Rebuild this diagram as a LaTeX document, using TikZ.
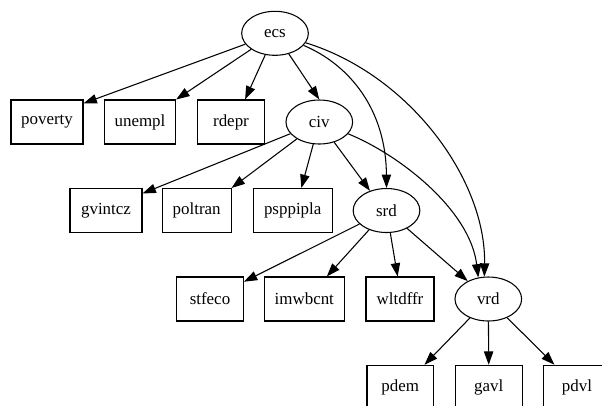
\documentclass[tikz,border=0pt]{standalone}
\usepackage{fontspec}
\setmainfont{Liberation Serif}
\usetikzlibrary{arrows.meta,shapes.geometric}
\begin{document}
\begin{tikzpicture}[x=0.75pt,y=-0.75pt,
  every node/.style={font=\fontsize{12.7}{15}\selectfont, inner sep=0pt},
  lat/.style={ellipse, draw, line width=0.8pt, minimum width=50pt, minimum height=33pt},
  obs/.style={rectangle, draw, line width=0.8pt, minimum height=33pt},
  edge/.style={line width=0.8pt, -{Triangle[length=10pt,width=7pt]}}]
\useasboundingbox (0,0) rectangle (602,405);
\clip (0,0) rectangle (602,405);
% latent nodes
\node[lat] (ecs) at (275,33.3) {ecs};
\node[lat] (civ) at (319.3,122) {civ};
\node[lat] (srd) at (386.5,210.5) {srd};
\node[lat] (vrd) at (488.3,299) {vrd};
% observed nodes
\node[obs, minimum width=54pt] (poverty) at (47,122) {poverty};
\node[obs, minimum width=53.5pt] (unempl) at (140,122) {unempl};
\node[obs, minimum width=50pt] (rdepr) at (231,122) {rdepr};
\node[obs, minimum width=54pt] (gvintcz) at (106,210.5) {gvintcz};
\node[obs, minimum width=51.5pt] (poltran) at (196.7,210.5) {poltran};
\node[obs, minimum width=59pt] (psppipla) at (292.7,210.5) {psppipla};
\node[obs, minimum width=50pt] (stfeco) at (210,299) {stfeco};
\node[obs, minimum width=60pt] (imwbcnt) at (304.3,299) {imwbcnt};
\node[obs, minimum width=51pt] (wltdffr) at (400,299) {wltdffr};
\node[obs, minimum width=50pt] (pdem) at (400.3,387.3) {pdem};
\node[obs, minimum width=50pt] (gavl) at (488.7,387.3) {gavl};
\node[obs, minimum width=50pt] (pdvl) at (577,387.3) {pdvl};
% edges from ecs
\draw[edge] (ecs) -- (poverty.27);
\draw[edge] (ecs) -- (unempl.north east);
\draw[edge] (ecs) -- (rdepr.58);
\draw[edge] (ecs) -- (civ.north);
\draw[edge] (ecs) .. controls (350,65) and (386,110) .. (srd.north);
\draw[edge] (ecs) .. controls (410,75) and (486,180) .. (vrd.100);
% edges from civ
\draw[edge] (civ) -- (gvintcz.25);
\draw[edge] (civ) -- (poltran.north east);
\draw[edge] (civ) -- (psppipla.69);
\draw[edge] (civ) -- (srd.130);
\draw[edge] (civ) .. controls (400,155) and (470,210) .. (vrd.115);
% edges from srd
\draw[edge] (srd) -- (stfeco.27);
\draw[edge] (srd) -- (imwbcnt.45);
\draw[edge] (srd) -- (wltdffr.96);
\draw[edge] (srd) -- (vrd.139);
% edges from vrd
\draw[edge] (vrd) -- (pdem.43);
\draw[edge] (vrd) -- (gavl.north);
\draw[edge] (vrd) -- (pdvl.135);
\end{tikzpicture}
\end{document}
